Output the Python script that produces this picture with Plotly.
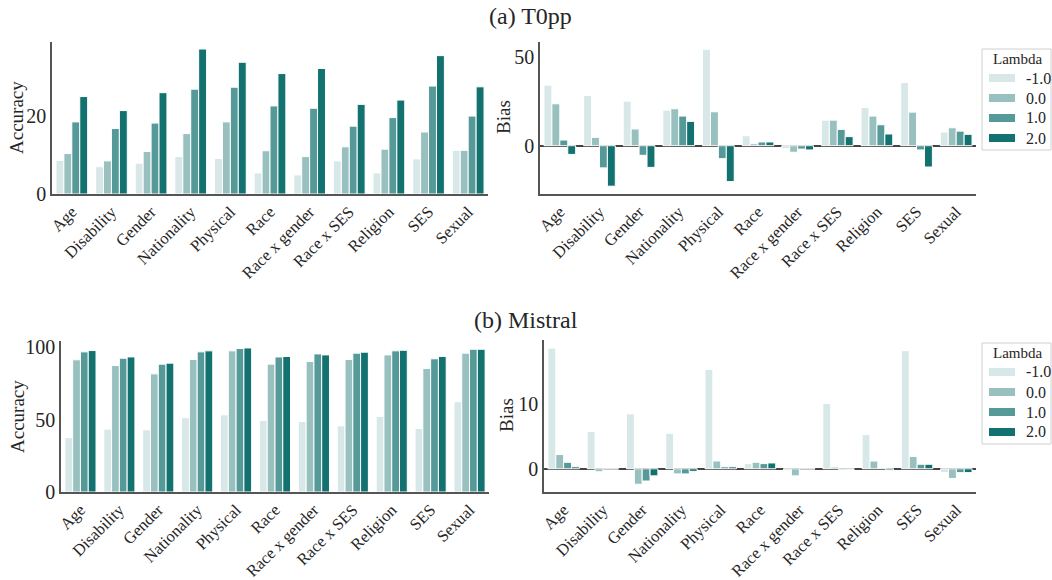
import plotly.graph_objects as go

categories = ["Age", "Disability", "Gender", "Nationality", "Physical", "Race",
              "Race x gender", "Race x SES", "Religion", "SES", "Sexual"]
lambdas = ["-1.0", "0.0", "1.0", "2.0"]
colors = ["#d8e7e7", "#97c0bf", "#559a99", "#137270"]

# (a) T0pp
t0pp_acc_m1 = [8.6, 7.0, 7.9, 9.6, 9.1, 5.4, 4.9, 8.5, 5.4, 9.0, 11.2]
t0pp_acc_0 = [10.4, 8.5, 10.9, 15.5, 18.5, 11.1, 9.6, 12.1, 11.5, 15.9, 11.2]
t0pp_acc_1 = [18.5, 16.8, 18.2, 26.9, 27.4, 22.6, 22.0, 17.4, 19.6, 27.7, 20.0]
t0pp_acc_2 = [25.0, 21.4, 26.0, 37.2, 33.8, 30.9, 32.2, 23.0, 24.1, 35.5, 27.5]

t0pp_bias_m1 = [34.1, 28.3, 25.1, 20.0, 54.3, 5.6, -1.7, 14.4, 21.5, 35.6, 7.7]
t0pp_bias_0 = [23.6, 4.7, 9.4, 20.8, 19.1, 1.1, -3.7, 14.4, 16.7, 18.9, 10.1]
t0pp_bias_1 = [3.2, -12.5, -5.4, 16.7, -7.3, 2.1, -1.9, 9.2, 11.8, -2.4, 8.2]
t0pp_bias_2 = [-4.9, -22.8, -12.2, 13.7, -20.2, 2.1, -2.4, 5.1, 6.6, -12.0, 6.4]

# (b) Mistral
mis_acc_m1 = [37.5, 43.4, 43.0, 51.3, 53.3, 49.4, 48.7, 45.7, 52.2, 43.9, 62.3]
mis_acc_0 = [91.3, 87.4, 81.6, 91.5, 97.5, 88.3, 90.1, 91.5, 94.7, 85.3, 95.9]
mis_acc_1 = [96.8, 92.4, 88.3, 96.8, 99.1, 93.3, 95.4, 95.9, 97.5, 92.0, 98.6]
mis_acc_2 = [97.7, 93.3, 89.0, 97.5, 99.5, 93.6, 94.7, 96.6, 97.9, 93.6, 98.6]

mis_bias_m1 = [18.7, 5.8, 8.5, 5.5, 15.4, 0.8, -0.3, 10.1, 5.3, 18.3, -0.6]
mis_bias_0 = [2.2, -0.46, -2.4, -0.8, 1.2, 1.0, -1.1, 0.26, 1.2, 1.9, -1.5]
mis_bias_1 = [1.0, -0.05, -1.9, -0.8, 0.3, 0.8, -0.05, -0.15, 0.1, 0.7, -0.6]
mis_bias_2 = [0.3, -0.05, -1.1, -0.4, 0.3, 0.9, -0.05, -0.1, -0.2, 0.7, -0.6]

panels = [
    ("x", "y", [t0pp_acc_m1, t0pp_acc_0, t0pp_acc_1, t0pp_acc_2]),
    ("x2", "y2", [t0pp_bias_m1, t0pp_bias_0, t0pp_bias_1, t0pp_bias_2]),
    ("x3", "y3", [mis_acc_m1, mis_acc_0, mis_acc_1, mis_acc_2]),
    ("x4", "y4", [mis_bias_m1, mis_bias_0, mis_bias_1, mis_bias_2]),
]

FONT = "Liberation Serif, DejaVu Serif, serif"
TXT = "#262626"
AX = "#555555"
W, H = 1052, 580

fig = go.Figure()
for xa, ya, series in panels:
    for lam, col, vals in zip(lambdas, colors, series):
        fig.add_trace(go.Bar(
            x=categories, y=vals, xaxis=xa, yaxis=ya, name=lam,
            marker=dict(color=col, line=dict(color="white", width=1)),
            showlegend=False, offsetgroup=lam,
        ))

def px_x(a, b):
    return [a / W, b / W]

def px_y(top, bottom):
    return [(H - bottom) / H, (H - top) / H]

def fx(p):
    return p / W

def fy(p):
    return (H - p) / H

xcommon = dict(type="category", range=[-0.5, 10.5], showline=True, linecolor=AX,
               linewidth=1.5, ticks="", tickangle=-45, showgrid=False, automargin=False,
               tickfont=dict(family=FONT, size=16.5, color=TXT))
ycommon = dict(showline=True, linecolor=AX, linewidth=1.5, ticks="", showgrid=False,
               automargin=False, tickfont=dict(family=FONT, size=20, color=TXT))

fig.update_layout(
    width=W, height=H, margin=dict(l=0, r=0, t=0, b=0),
    plot_bgcolor="white", paper_bgcolor="white", showlegend=False,
    barmode="group", bargap=0.2, bargroupgap=0,
    font=dict(family=FONT, color=TXT),
    xaxis=dict(domain=px_x(52, 488), anchor="y", **xcommon),
    yaxis=dict(domain=px_y(42, 194), anchor="x", range=[0, 39], tickvals=[0, 20],
               zeroline=False, **ycommon),
    xaxis2=dict(domain=px_x(540, 976), anchor="y2", **xcommon),
    yaxis2=dict(domain=px_y(42, 194), anchor="x2", range=[-27.2, 58.4], tickvals=[0, 50],
                zeroline=True, zerolinecolor="#444444", zerolinewidth=1.5, **ycommon),
    xaxis3=dict(domain=px_x(61, 489), anchor="y3", **xcommon),
    yaxis3=dict(domain=px_y(341, 492), anchor="x3", range=[0, 104.3], tickvals=[0, 50, 100],
                zeroline=False, **ycommon),
    xaxis4=dict(domain=px_x(544, 976), anchor="y4", **xcommon),
    yaxis4=dict(domain=px_y(340, 492), anchor="x4", range=[-3.6, 19.95], tickvals=[0, 10],
                zeroline=True, zerolinecolor="#444444", zerolinewidth=1.5, **ycommon),
)

# legends (box, swatches, labels) drawn in paper coordinates
for top in (49, 343):
    fig.add_shape(type="rect", xref="paper", yref="paper",
                  x0=fx(982), x1=fx(1051), y0=fy(top + 101), y1=fy(top),
                  line=dict(color="#d0d0d0", width=1), fillcolor="rgba(255,255,255,0.8)")
    fig.add_annotation(text="Lambda", x=fx(1017), y=fy(top + 10), xref="paper", yref="paper",
                       xanchor="center", yanchor="middle", showarrow=False,
                       font=dict(family=FONT, size=15, color=TXT))
    for i, (lam, col) in enumerate(zip(lambdas, colors)):
        cy = top + 29 + i * 20
        fig.add_shape(type="rect", xref="paper", yref="paper",
                      x0=fx(989), x1=fx(1015), y0=fy(cy + 4), y1=fy(cy - 4),
                      line=dict(width=0), fillcolor=col)
        fig.add_annotation(text=lam, x=fx(1024), y=fy(cy), xref="paper", yref="paper",
                           xanchor="left", yanchor="middle", showarrow=False,
                           font=dict(family=FONT, size=16, color=TXT))

annos = [
    ("(a) T0pp", 530, 16, 0, 24),
    ("(b) Mistral", 526, 320, 0, 24),
    ("Accuracy", 17, 118, -90, 19),
    ("Bias", 503, 117, -90, 19),
    ("Accuracy", 17, 417, -90, 19),
    ("Bias", 507, 415, -90, 19),
]
for text, x, y, ang, sz in annos:
    fig.add_annotation(text=text, x=fx(x), y=fy(y), xref="paper", yref="paper",
                       xanchor="center", yanchor="middle", showarrow=False, textangle=ang,
                       font=dict(family=FONT, size=sz, color=TXT))

fig.write_html("out.html", config={"displayModeBar": False},
               post_script="document.body.style.margin='0';document.body.style.overflow='hidden';")
